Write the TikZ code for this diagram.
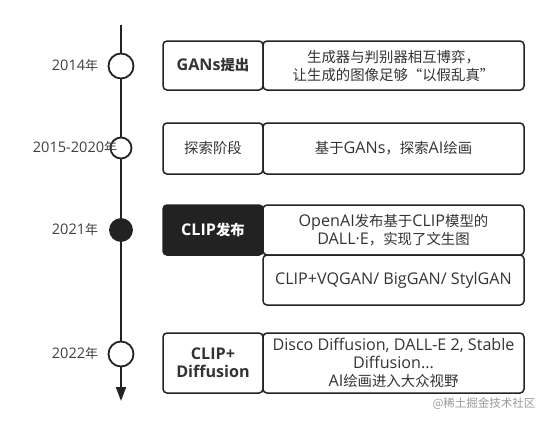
\documentclass[tikz,border=0pt]{standalone}
\usepackage{fontspec}
\setmainfont{Open Sans}[Scale=1.12]
\newfontfamily\cjk{Noto Sans CJK SC}
\usepackage{xcolor}
\usetikzlibrary{arrows.meta,positioning}

\definecolor{ink}{HTML}{222222}
\definecolor{txt}{HTML}{333333}

\begin{document}
\begin{tikzpicture}[x=1pt, y=-1pt, >={Triangle[width=10pt,length=14pt]}]
    \tikzstyle{block} = [draw=ink, line width=1.5pt, rounded corners=4pt, outer sep=0pt, inner sep=2pt, align=center, text=txt, font=\fontsize{14.4}{18}\selectfont]
    \tikzstyle{stage} = [block, minimum width=100pt, minimum height=49pt]
    \tikzstyle{detail} = [block, minimum width=261pt, minimum height=49pt]
    \tikzstyle{dot} = [circle, draw=ink, line width=1.8pt, fill=white, inner sep=0pt]
    \tikzstyle{year} = [font=\fontsize{13}{16}\selectfont, text=black!75]

    \useasboundingbox (0,0) rectangle (548,423);

    % timeline
    \coordinate (top) at (121,25);
    \coordinate (bottom) at (121,401);
    \draw [->, line width=2.2pt, ink] (top) -- (bottom);

    \node [dot, minimum size=25pt] (d2014) at (121,66) {};
    \node [dot, minimum size=21pt] (d2015) at (121,148) {};
    \node [dot, minimum size=22pt, fill=ink] (d2021) at (121,230) {};
    \node [dot, minimum size=25pt] (d2022) at (121,354) {};

    % years
    \node [year] (y2014) at (75,66) {2014{\cjk 年}};
    \node [year] (y2015) at (75,148) {2015-2020{\cjk 年}};
    \node [year] (y2021) at (75,230) {2021{\cjk 年}};
    \node [year] (y2022) at (75,354) {2022{\cjk 年}};

    % stages
    \node [stage, font=\fontsize{14.4}{18}\selectfont\bfseries] (s2014) at (213,65.5) {GANs{\cjk 提出}};
    \node [detail, right=0pt of s2014] (t2014) {{\cjk 生成器与判别器相互博弈，}\\{\cjk 让生成的图像足够“以假乱真”}};

    \node [stage, minimum height=51pt] (s2015) at (213,148.5) {\cjk 探索阶段};
    \node [detail, minimum height=51pt, right=0pt of s2015] (t2015) {{\cjk 基于}GANs{\cjk ，探索}AI{\cjk 绘画}};

    \node [stage, minimum height=50pt, fill=ink, text=white, font=\fontsize{14.4}{18}\selectfont\bfseries] (s2021) at (213,230) {CLIP{\cjk 发布}};
    \node [detail, minimum height=50pt, right=0pt of s2021] (t2021) {OpenAI{\cjk 发布基于}CLIP{\cjk 模型的}\\DALL·E{\cjk ，实现了文生图}};
    \node [detail, minimum height=50pt, below=0pt of t2021] (u2021) {CLIP+VQGAN/ BigGAN/ StylGAN};

    \node [stage, minimum height=60pt, font=\fontsize{14.4}{18}\selectfont\bfseries] (s2022) at (213,363) {CLIP+\\Diffusion};
    \node [detail, minimum height=60pt, right=0pt of s2022] (t2022) {Disco Diffusion, DALL-E 2, Stable\\Diffusion...\\AI{\cjk 绘画进入大众视野}};

    \node [font=\fontsize{11.5}{14}\selectfont\cjk, text=black!40] (mark) at (484,404) {@稀土掘金技术社区};
\end{tikzpicture}
\end{document}
